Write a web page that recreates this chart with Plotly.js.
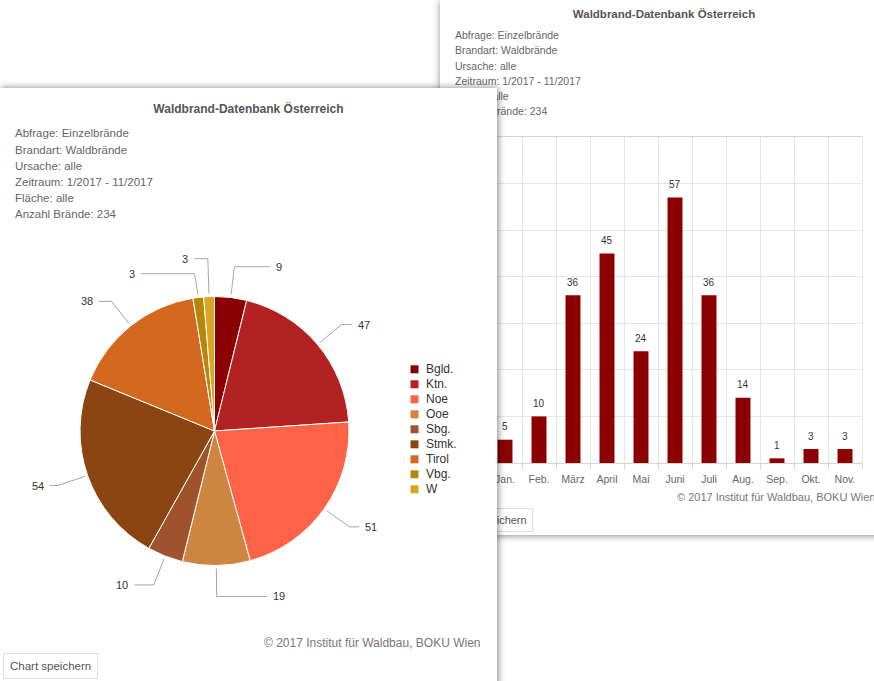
<!DOCTYPE html>
<html><head><meta charset="utf-8">
<script src="https://cdn.plot.ly/plotly-3.0.1.min.js"></script>
<style>
html,body{margin:0;padding:0;width:874px;height:681px;overflow:hidden;background:#fff;}
#back{position:absolute;left:440px;top:0;width:448px;height:535px;box-shadow:0 1px 7px rgba(0,0,0,0.45);background:#fff;}
#front{position:absolute;left:0;top:88px;width:497px;height:600px;box-shadow:1px 0 7px rgba(0,0,0,0.5);background:#fff;}
</style></head><body>
<div id="back"></div><div id="front"></div>
<script>
// ---------- data ----------
const chartTitle = 'Waldbrand-Datenbank Österreich';
const queryLines = ['Abfrage: Einzelbrände', 'Brandart: Waldbrände', 'Ursache: alle',
                    'Zeitraum: 1/2017 - 11/2017', 'Fläche: alle', 'Anzahl Brände: 234'];
const copyrightText = '© 2017 Institut für Waldbau, BOKU Wien';
const buttonText = 'Chart speichern';

const regions = ['Bgld.', 'Ktn.', 'Noe', 'Ooe', 'Sbg.', 'Stmk.', 'Tirol', 'Vbg.', 'W'];
const regionFires = [9, 47, 51, 19, 10, 54, 38, 3, 3];
const regionColors = ['#8B0000', '#B22222', '#FF6347', '#CD853F', '#A0522D', '#8B4513', '#D2691E', '#B8860B', '#DAA520'];

const months = ['Jan.', 'Feb.', 'März', 'April', 'Mai', 'Juni', 'Juli', 'Aug.', 'Sep.', 'Okt.', 'Nov.'];
const monthFires = [5, 10, 36, 45, 24, 57, 36, 14, 1, 3, 3];
const yTicks = [0, 10, 20, 30, 40, 50, 60, 70];

const FONT = "'Liberation Sans', Arial, sans-serif";
const cfg = {displayModeBar: false, staticPlot: true};

// ---------- back panel: bar chart ----------
(function () {
  const W = 448, H = 535;
  const m = {l: 47.6, r: 26, t: 136.7, b: 72.3};
  const pw = W - m.l - m.r, ph = H - m.t - m.b;
  const px = v => (v - m.l) / pw, py = v => (H - m.b - v) / ph;
  const ann = [];
  queryLines.forEach((t, k) => ann.push({text: t, xref: 'paper', yref: 'paper', x: px(13), y: py(35 + 15.1 * k),
    xanchor: 'left', yanchor: 'middle', showarrow: false, font: {family: FONT, size: 10.5, color: '#666'}}));
  months.forEach((mo, k) => ann.push({text: String(monthFires[k]), xref: 'x', yref: 'y', x: mo, y: monthFires[k],
    yshift: 13, yanchor: 'middle', showarrow: false, font: {family: FONT, size: 10, color: '#333'}}));
  ann.push({text: copyrightText, xref: 'paper', yref: 'paper', x: px(437), y: py(497), xanchor: 'right', yanchor: 'middle',
    showarrow: false, font: {family: FONT, size: 11, color: '#777'}});
  ann.push({text: buttonText, xref: 'paper', yref: 'paper', x: px(3), y: py(520), xanchor: 'left', yanchor: 'middle',
    showarrow: false, bordercolor: '#ddd', borderwidth: 1, borderpad: 5, bgcolor: '#fff',
    font: {family: FONT, size: 11, color: '#555'}});
  Plotly.newPlot('back', [{
    type: 'bar', x: months, y: monthFires, width: 0.44,
    marker: {color: '#8B0000', line: {width: 0}}, hoverinfo: 'none'
  }], {
    width: W, height: H, margin: m, paper_bgcolor: '#fff', plot_bgcolor: '#fff', showlegend: false,
    title: {text: '<b>' + chartTitle + '</b>', x: 0.5, xref: 'container', xanchor: 'center',
      y: 1 - 14 / H, yref: 'container', yanchor: 'middle', font: {family: FONT, size: 11.5, color: '#555'}},
    xaxis: {type: 'category', range: [-0.5, 10.5], tickson: 'boundaries', showgrid: true, gridcolor: '#e6e6e6',
      ticks: 'outside', ticklen: 5, tickcolor: '#ccd6eb', showline: true, linecolor: '#d6d6d6', mirror: true,
      ticklabelstandoff: 6, tickfont: {family: FONT, size: 10.5, color: '#666'}, fixedrange: true},
    yaxis: {range: [0, 70], tickvals: yTicks, showgrid: true, gridcolor: '#e6e6e6', zeroline: false,
      showline: true, linecolor: '#e6e6e6', mirror: true, tickfont: {family: FONT, size: 10, color: '#666'}, fixedrange: true},
    annotations: ann
  }, cfg);
})();

// ---------- front panel: pie chart ----------
(function () {
  const W = 497, H = 600;
  const cx = 214.5, cy = 343, r = 134.5;
  const fx = v => v / W, fy = v => 1 - v / H;
  const ann = [], shapes = [];
  queryLines.forEach((t, k) => ann.push({text: t, xref: 'paper', yref: 'paper', x: fx(13), y: fy(45.3 + 16.2 * k),
    xanchor: 'left', yanchor: 'middle', showarrow: false, font: {family: FONT, size: 11.5, color: '#666'}}));
  // legend
  regions.forEach((name, k) => {
    const yc = 281.3 + 15 * k;
    shapes.push({type: 'rect', xref: 'paper', yref: 'paper', x0: fx(410.5), x1: fx(418.5), y0: fy(yc - 4), y1: fy(yc + 4),
      fillcolor: regionColors[k], line: {width: 0}});
    ann.push({text: name, xref: 'paper', yref: 'paper', x: fx(424), y: fy(yc), xanchor: 'left', yanchor: 'middle',
      showarrow: false, font: {family: FONT, size: 12, color: '#333'}});
  });
  // data labels with connectors (computed from the values)
  const total = regionFires.reduce((a, b) => a + b, 0);
  let cum = 0;
  const labs = regionFires.map((v, i) => {
    const a = (cum + v / 2) / total * 2 * Math.PI; cum += v;
    const s = Math.sin(a), c = Math.cos(a);
    return {i, v, side: s >= 0 ? 1 : -1, sx: cx + (r + 3) * s, sy: cy - (r + 3) * c,
            bx: cx + (r + 31) * s, by: cy - (r + 31) * c};
  });
  [1, -1].forEach(side => {
    const list = labs.filter(l => l.side === side).sort((a, b) => a.by - b.by);
    list.forEach(l => l.y = l.by);
    for (let it = 0; it < 60; it++) {
      let moved = false;
      for (let k = 1; k < list.length; k++) {
        const d = list[k].y - list[k - 1].y;
        if (d < 15) { const mv = (15 - d) / 2; list[k - 1].y -= mv; list[k].y += mv; moved = true; }
      }
      if (!moved) break;
    }
  });
  const RL = r + 39;
  labs.forEach(l => {
    const dy = l.y - cy;
    const off = Math.max(Math.sqrt(Math.max(RL * RL - dy * dy, 0)), Math.abs(l.bx - cx) + 4);
    const ex = cx + l.side * off;
    shapes.push({type: 'path', xref: 'paper', yref: 'paper',
      path: `M ${fx(l.sx)} ${fy(l.sy)} L ${fx(l.bx)} ${fy(l.y)} L ${fx(ex)} ${fy(l.y)}`,
      line: {color: '#a6a6a6', width: 1}});
    ann.push({text: String(l.v), xref: 'paper', yref: 'paper', x: fx(ex + l.side * 4), y: fy(l.y),
      xanchor: l.side > 0 ? 'left' : 'right', yanchor: 'middle', showarrow: false,
      font: {family: FONT, size: 11, color: '#333'}});
  });
  ann.push({text: copyrightText, xref: 'paper', yref: 'paper', x: fx(483), y: fy(555), xanchor: 'right', yanchor: 'middle',
    showarrow: false, font: {family: FONT, size: 12, color: '#777'}});
  ann.push({text: buttonText, xref: 'paper', yref: 'paper', x: fx(3), y: fy(578), xanchor: 'left', yanchor: 'middle',
    showarrow: false, bordercolor: '#ddd', borderwidth: 1, borderpad: 6, bgcolor: '#fff',
    font: {family: FONT, size: 11.5, color: '#555'}});
  Plotly.newPlot('front', [{
    type: 'pie', values: regionFires, labels: regions, sort: false, direction: 'clockwise', rotation: 0,
    marker: {colors: regionColors, line: {color: '#fff', width: 1}},
    textinfo: 'none', hoverinfo: 'none', showlegend: false,
    domain: {x: [fx(cx - r), fx(cx + r)], y: [fy(cy + r), fy(cy - r)]}
  }], {
    width: W, height: H, margin: {l: 0, r: 0, t: 0, b: 0}, paper_bgcolor: '#fff', showlegend: false,
    title: {text: '<b>' + chartTitle + '</b>', x: 0.5, xref: 'container', xanchor: 'center',
      y: 1 - 20.3 / H, yref: 'container', yanchor: 'middle', font: {family: FONT, size: 12, color: '#555'}},
    shapes: shapes, annotations: ann
  }, cfg);
})();
</script>
</body></html>
